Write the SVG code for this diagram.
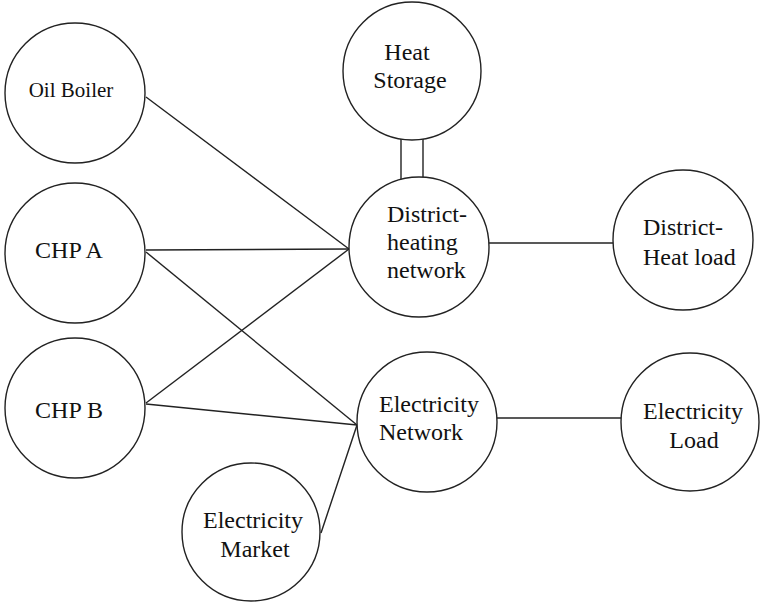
<svg xmlns="http://www.w3.org/2000/svg" width="761" height="603" viewBox="0 0 761 603">
<style>
.n{fill:#fff;stroke:#222;stroke-width:1.4}
.c line{stroke:#222;stroke-width:1.4}
text{font-family:'Liberation Serif','DejaVu Serif',serif;font-size:24px;fill:#111}
.m{text-anchor:middle}
</style>
<rect width="761" height="603" fill="#fff"/>
<g id="connectors" class="c">
<line x1="146" y1="97" x2="349" y2="249"/>
<line x1="146" y1="250" x2="349" y2="249"/>
<line x1="146" y1="252" x2="357" y2="425"/>
<line x1="146" y1="403" x2="349" y2="249"/>
<line x1="146" y1="404" x2="357" y2="425"/>
<line x1="321" y1="533" x2="357" y2="425"/>
<line x1="489" y1="243" x2="613" y2="243"/>
<line x1="497" y1="418" x2="621" y2="418"/>
<line x1="401" y1="130" x2="401" y2="185"/>
<line x1="423" y1="130" x2="423" y2="185"/>
</g>
<g id="oil-boiler"><circle class="n" cx="75" cy="93" r="70"/><text class="m" x="71" y="97" style="font-size:21px">Oil Boiler</text></g>
<g id="chp-a"><circle class="n" cx="75" cy="253" r="70"/><text class="m" x="69" y="258">CHP A</text></g>
<g id="chp-b"><circle class="n" cx="75" cy="408" r="70"/><text class="m" x="69" y="418">CHP B</text></g>
<g id="heat-storage"><circle class="n" cx="412" cy="71" r="69"/><text class="m" x="407" y="60">Heat</text><text class="m" x="410" y="88">Storage</text></g>
<g id="dh-network"><circle class="n" cx="419" cy="247" r="70"/><text x="387" y="222">District-</text><text x="387" y="250">heating</text><text x="387" y="278">network</text></g>
<g id="dh-load"><circle class="n" cx="683" cy="240" r="70"/><text x="643" y="235">District-</text><text x="643" y="265">Heat load</text></g>
<g id="el-network"><circle class="n" cx="427" cy="422" r="70"/><text x="379" y="412">Electricity</text><text x="379" y="440">Network</text></g>
<g id="el-load"><circle class="n" cx="690" cy="422" r="69"/><text class="m" x="693" y="419">Electricity</text><text class="m" x="694" y="448">Load</text></g>
<g id="el-market"><circle class="n" cx="251" cy="532" r="69"/><text class="m" x="253" y="528">Electricity</text><text class="m" x="255" y="557">Market</text></g>
</svg>
